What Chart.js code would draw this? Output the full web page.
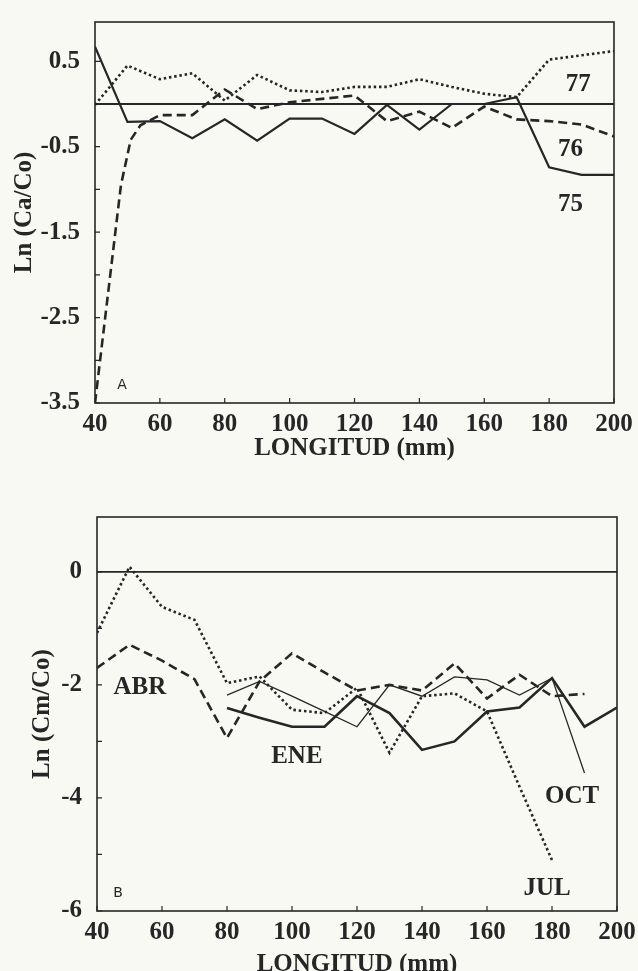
<!DOCTYPE html>
<html>
<head>
<meta charset="utf-8">
<script src="https://cdn.jsdelivr.net/npm/chart.js@4.4.1/dist/chart.umd.min.js"></script>
<style>
    html, body { margin: 0; padding: 0; background: #f9f9f4; overflow: hidden; }
    .panel { position: absolute; left: 0; width: 638px; }
    #panelA { top: 0; height: 480px; }
    #panelB { top: 480px; height: 500px; }
</style>
</head>
<body>
<div class="panel" id="panelA"><canvas id="chartA"></canvas></div>
<div class="panel" id="panelB"><canvas id="chartB"></canvas></div>
<script>
// longitudes (mm)
const lengths = [40, 50, 60, 70, 80, 90, 100, 110, 120, 130, 140, 150, 160, 170, 180, 190, 200];
const xTicks = [40, 60, 80, 100, 120, 140, 160, 180, 200];

// panel A : Ln (Ca/Co)
const yTicksA = [-3.5, -3, -2.5, -2, -1.5, -1, -0.5, 0, 0.5];
const yLabelsA = [0.5, -0.5, -1.5, -2.5, -3.5];
const run75 = [0.67, -0.21, -0.2, -0.4, -0.18, -0.43, -0.17, -0.17, -0.35, -0.01, -0.3, 0, 0, 0.08, -0.74, -0.83, -0.83];
const run77 = [-0.01, 0.45, 0.29, 0.36, 0.04, 0.34, 0.16, 0.14, 0.2, 0.2, 0.29, 0.2, 0.12, 0.08, 0.52, 0.57, 0.62];
const len76 = [40, 48, 51, 54, 60, 70, 80, 90, 100, 110, 120, 130, 140, 150, 160, 170, 180, 190, 200];
const run76 = [-3.5, -0.95, -0.42, -0.25, -0.13, -0.13, 0.17, -0.06, 0.02, 0.06, 0.1, -0.2, -0.09, -0.28, -0.03, -0.18, -0.2, -0.24, -0.38];

// panel B : Ln (Cm/Co)
const yTicksB = [-6, -5, -4, -3, -2, -1, 0];
const yLabelsB = [0, -2, -4, -6];
const lenABR = lengths.slice(0, 16);
const abr = [-1.7, -1.29, -1.57, -1.9, -2.94, -1.94, -1.44, -1.78, -2.1, -2.0, -2.1, -1.62, -2.24, -1.82, -2.2, -2.16];
const lenENE = lengths.slice(4);
const ene = [-2.41, -2.58, -2.74, -2.74, -2.2, -2.5, -3.15, -3.0, -2.47, -2.4, -1.88, -2.74, -2.4];
const lenJUL = lengths.slice(0, 15);
const jul = [-1.08, 0.09, -0.62, -0.85, -1.97, -1.85, -2.44, -2.5, -2.05, -3.2, -2.2, -2.15, -2.47, -3.8, -5.1];
const lenOCT = lengths.slice(4, 16);
const oct = [-2.18, -1.94, -2.2, -2.47, -2.74, -2.0, -2.2, -1.86, -1.91, -2.18, -1.88, -3.56];

const ink = '#262626';
const serif = '"Liberation Serif", "Times New Roman", serif';
const bigFont = { family: serif, size: 25, weight: 'bold' };

const pts = (xs, ys) => xs.map((x, i) => ({ x: x, y: ys[i] }));

const solid = (data, w) => ({ data, borderColor: ink, borderWidth: w, pointRadius: 0, tension: 0 });
const dashed = data => ({ data, borderColor: ink, borderWidth: 2.6, borderDash: [9, 5], pointRadius: 0, tension: 0 });
const dotted = data => ({ data, borderColor: ink, borderWidth: 2.6, borderDash: [2.5, 2.8], pointRadius: 0, tension: 0 });

// frame, zero line, inward ticks and the curve names
const frame = {
    id: 'frame',
    beforeDatasetsDraw(chart) {
        const { ctx, chartArea: a, scales: { x, y } } = chart;
        ctx.save();
        ctx.strokeStyle = ink;
        ctx.lineWidth = 1.8;
        const y0 = y.getPixelForValue(0);
        ctx.beginPath();
        ctx.moveTo(a.left, y0);
        ctx.lineTo(a.right, y0);
        ctx.stroke();
        ctx.lineWidth = 1.6;
        ctx.strokeRect(a.left, a.top, a.right - a.left, a.bottom - a.top);
        ctx.lineWidth = 1.2;
        ctx.beginPath();
        x.ticks.forEach(t => {
            const px = x.getPixelForValue(t.value);
            ctx.moveTo(px, a.bottom);
            ctx.lineTo(px, a.bottom - 5);
        });
        y.ticks.forEach(t => {
            const py = y.getPixelForValue(t.value);
            ctx.moveTo(a.left, py);
            ctx.lineTo(a.left + 5, py);
        });
        ctx.stroke();
        ctx.restore();
    },
    afterDatasetsDraw(chart, args, opts) {
        const { ctx, scales: { x, y } } = chart;
        ctx.save();
        ctx.fillStyle = ink;
        ctx.textAlign = 'center';
        ctx.textBaseline = 'middle';
        (opts.notes || []).forEach(n => {
            ctx.font = n.small ? '14px "DejaVu Sans", sans-serif' : 'bold 25px ' + serif;
            ctx.fillText(n.text, x.getPixelForValue(n.x), y.getPixelForValue(n.y));
        });
        ctx.restore();
    }
};

function makeChart(id, datasets, cfg) {
    return new Chart(document.getElementById(id), {
        type: 'line',
        data: { datasets },
        plugins: [frame],
        options: {
            responsive: true,
            maintainAspectRatio: false,
            animation: false,
            layout: { padding: cfg.padding },
            plugins: {
                legend: { display: false },
                tooltip: { enabled: false },
                frame: { notes: cfg.notes }
            },
            scales: {
                x: {
                    type: 'linear',
                    min: 40,
                    max: 200,
                    afterBuildTicks: s => { s.ticks = xTicks.map(v => ({ value: v })); },
                    afterFit: s => { s.height = cfg.xHeight; },
                    grid: { display: false },
                    border: { display: false },
                    ticks: { color: ink, font: bigFont, padding: cfg.xPad, maxRotation: 0, autoSkip: false, callback: v => String(v) },
                    title: { display: true, text: 'LONGITUD (mm)', color: ink, font: bigFont, padding: { top: 0, bottom: cfg.xTitlePad } }
                },
                y: {
                    min: cfg.yMin,
                    max: cfg.yMax,
                    afterBuildTicks: s => { s.ticks = cfg.yTicks.map(v => ({ value: v })); },
                    afterFit: s => { s.width = cfg.yWidth; },
                    grid: { display: false },
                    border: { display: false },
                    ticks: { color: ink, font: bigFont, padding: 7, callback: v => cfg.yLabels.includes(v) ? String(v) : '' },
                    title: { display: true, text: cfg.yTitle, color: ink, font: bigFont, padding: { top: cfg.yTitlePad, bottom: 0 } }
                }
            }
        }
    });
}

makeChart('chartA', [
    solid(pts(lengths, run75), 2.2),
    dashed(pts(len76, run76)),
    dotted(pts(lengths, run77))
], {
    padding: { top: 13, right: 24, left: 0, bottom: 0 },
    xHeight: 77, xPad: -1, xTitlePad: 16,
    yMin: -3.5, yMax: 0.96, yTicks: yTicksA, yLabels: yLabelsA,
    yWidth: 95, yTitle: 'Ln (Ca/Co)', yTitlePad: 10,
    notes: [
        { text: '77', x: 189, y: 0.23 },
        { text: '76', x: 186.6, y: -0.53 },
        { text: '75', x: 186.6, y: -1.18 },
        { text: 'A', x: 48.3, y: -3.29, small: true }
    ]
});

makeChart('chartB', [
    dashed(pts(lenABR, abr)),
    solid(pts(lenENE, ene), 2.6),
    dotted(pts(lenJUL, jul)),
    solid(pts(lenOCT, oct), 1.3)
], {
    padding: { top: 37, right: 21, left: 0, bottom: 0 },
    xHeight: 69, xPad: -1, xTitlePad: 0,
    yMin: -6, yMax: 0.97, yTicks: yTicksB, yLabels: yLabelsB,
    yWidth: 97, yTitle: 'Ln (Cm/Co)', yTitlePad: 28,
    notes: [
        { text: 'ABR', x: 53.2, y: -2.05 },
        { text: 'ENE', x: 101.5, y: -3.27 },
        { text: 'OCT', x: 186.2, y: -3.98 },
        { text: 'JUL', x: 178.5, y: -5.61 },
        { text: 'B', x: 46.5, y: -5.68, small: true }
    ]
});
</script>
</body>
</html>
